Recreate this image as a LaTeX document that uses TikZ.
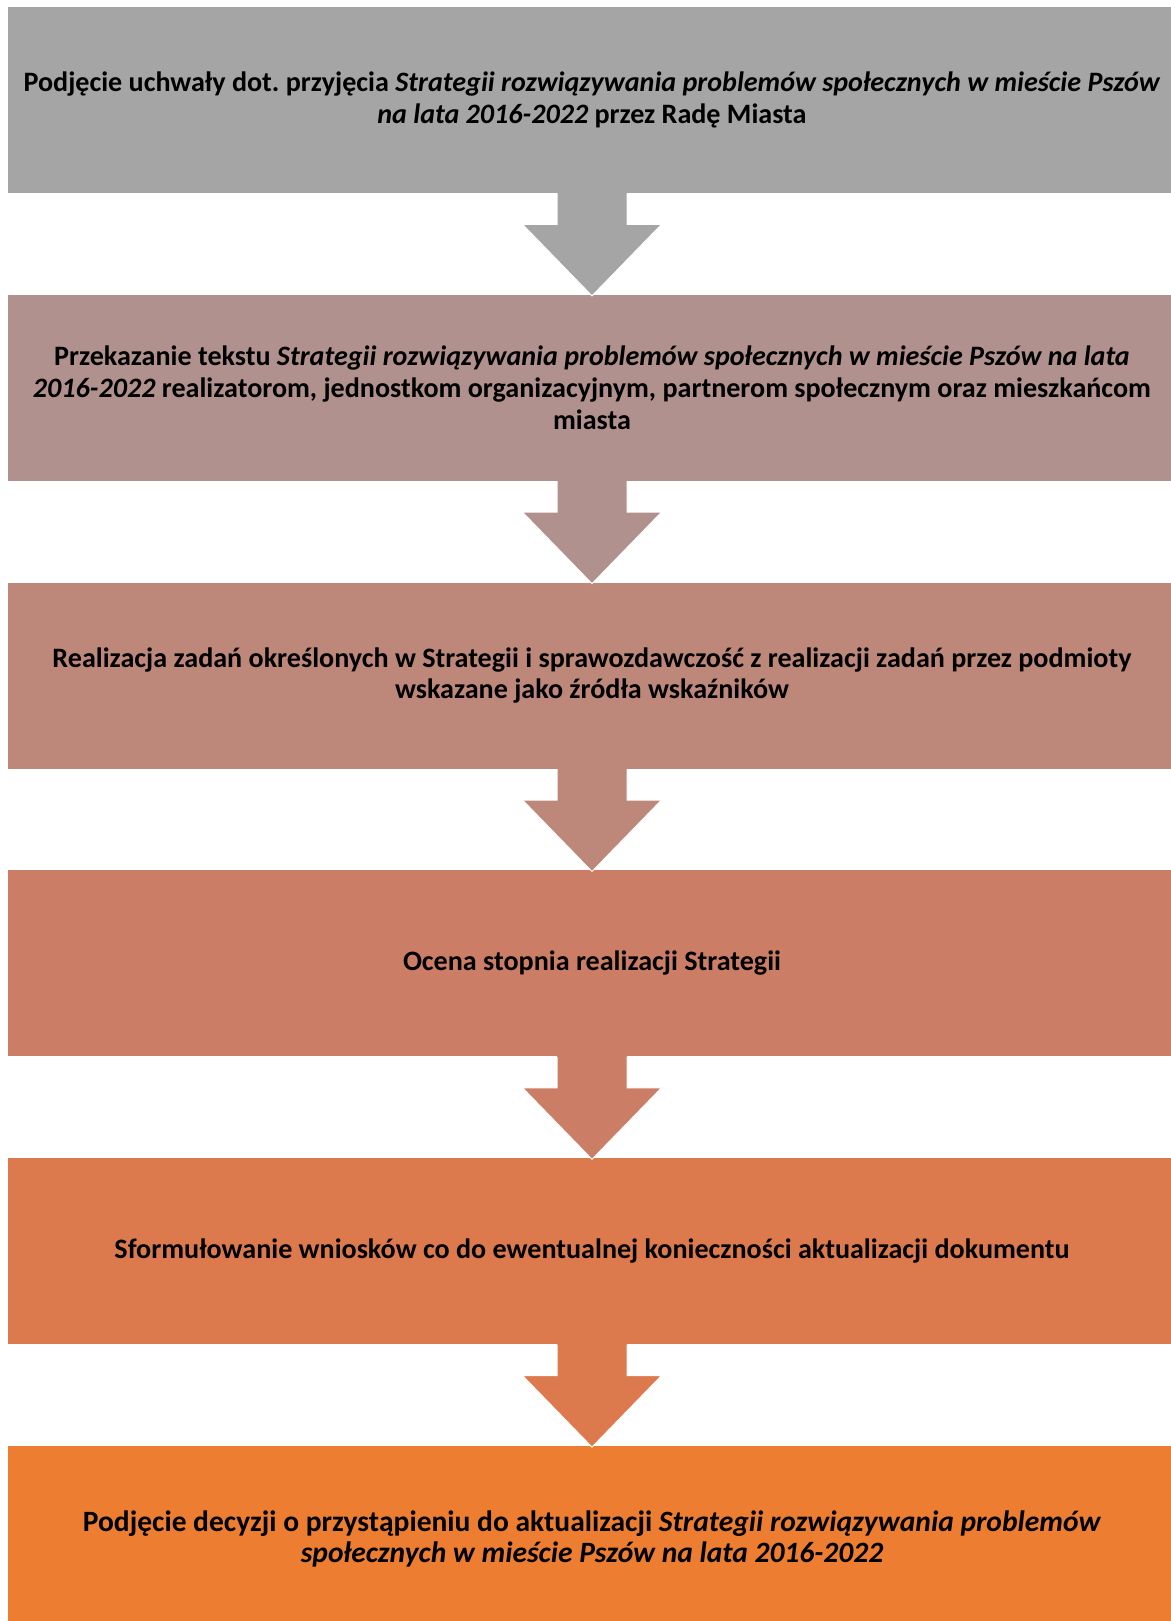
\documentclass[tikz,border=0pt]{standalone}
\usepackage{fontspec}
\setmainfont{Carlito}
\usetikzlibrary{calc}
\usetikzlibrary{positioning}
\definecolor{stageA}{HTML}{A5A5A5}
\definecolor{stageB}{HTML}{B0918E}
\definecolor{stageC}{HTML}{BD877A}
\definecolor{stageD}{HTML}{CC7D65}
\definecolor{stageE}{HTML}{DC7A4D}
\definecolor{stageF}{HTML}{ED7D31}
\tikzset{stage/.style={rectangle, minimum width=584pt, minimum height=93pt, inner sep=0pt,
  align=center, font=\bfseries\fontsize{14.05}{15.8}\selectfont}}
\frenchspacing

\begin{document}
\begin{tikzpicture} [x=.5pt, y=-.5pt, node distance=50.5pt]
\useasboundingbox (0,0) rectangle (1171,1621);
\clip (0,0) rectangle (1171,1621);
\node[stage, fill=stageA] (s1) at (592,100) {Podjęcie uchwały dot. przyjęcia \textit{Strategii rozwiązywania problemów społecznych w mieście Pszów}\\ \textit{na lata 2016-2022} przez Radę Miasta};
\node[stage, fill=stageB, below=of s1] (s2) {Przekazanie tekstu \textit{Strategii rozwiązywania problemów społecznych w mieście Pszów na lata}\\ \textit{2016-2022} realizatorom, jednostkom organizacyjnym, partnerom społecznym oraz mieszkańcom\\ miasta};
\node[stage, fill=stageC, below=of s2] (s3) {Realizacja zadań określonych w Strategii i sprawozdawczość z realizacji zadań przez podmioty\\ wskazane jako źródła wskaźników};
\node[stage, fill=stageD, below=of s3] (s4) {Ocena stopnia realizacji Strategii};
\node[stage, fill=stageE, below=of s4] (s5) {Sformułowanie wniosków co do ewentualnej konieczności aktualizacji dokumentu};
\node[stage, fill=stageF, below=of s5, font=\bfseries\fontsize{14.75}{15.8}\selectfont] (s6) {Podjęcie decyzji o przystąpieniu do aktualizacji \textit{Strategii rozwiązywania problemów}\\ \textit{społecznych w mieście Pszów na lata 2016-2022}};
% block arrows between the stages
\foreach \a/\b/\c in {s1/s2/stageA, s2/s3/stageB, s3/s4/stageC, s4/s5/stageD, s5/s6/stageE} {
 \fill[\c] ($(\a.south)+(-35,-1)$) -- ($(\a.south)+(-35,31)$) -- ($(\a.south)+(-69.5,31)$) -- ($(\b.north)+(0,1.5)$)
   -- ($(\a.south)+(69.5,31)$) -- ($(\a.south)+(35,31)$) -- ($(\a.south)+(35,-1)$) -- cycle;
 \draw[white, line width=.5pt] ($(\a.south)+(-35,0)$) -- ($(\a.south)+(-35,31)$) -- ($(\a.south)+(-69.5,31)$) -- ($(\b.north)+(0,1.5)$)
   -- ($(\a.south)+(69.5,31)$) -- ($(\a.south)+(35,31)$) -- ($(\a.south)+(35,0)$);
}
\end{tikzpicture}
\end{document}
